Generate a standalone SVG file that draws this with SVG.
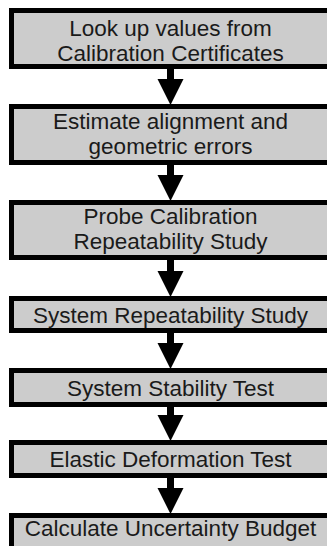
<svg xmlns="http://www.w3.org/2000/svg" width="327" height="546" viewBox="0 0 327 546">
<style>
.box{fill:#cccccc;stroke:#000;stroke-width:5}
.t{font-family:"Liberation Sans",Arial,sans-serif;font-size:22.5px;fill:#1a1a1a;text-anchor:middle}
.arr{fill:#000}
</style>
<rect width="327" height="546" fill="#fff"/>
<g id="n1"><rect class="box" x="11.5" y="10.5" width="340" height="56"/><text class="t" x="170.5" y="35.5">Look up values from</text><text class="t" x="170.5" y="60.5">Calibration Certificates</text></g>
<g id="n2"><rect class="box" x="11.5" y="106.5" width="340" height="56"/><text class="t" x="170.5" y="129">Estimate alignment and</text><text class="t" x="170.5" y="154">geometric errors</text></g>
<g id="n3"><rect class="box" x="11.5" y="202.5" width="340" height="55"/><text class="t" x="170.5" y="224">Probe Calibration</text><text class="t" x="170.5" y="249">Repeatability Study</text></g>
<g id="n4"><rect class="box" x="11.5" y="298.5" width="340" height="32"/><text class="t" x="170.5" y="322.7">System Repeatability Study</text></g>
<g id="n5"><rect class="box" x="11.5" y="370.5" width="340" height="34"/><text class="t" x="170.5" y="395.5">System Stability Test</text></g>
<g id="n6"><rect class="box" x="11.5" y="442.5" width="340" height="33"/><text class="t" x="170.5" y="467">Elastic Deformation Test</text></g>
<g id="n7"><rect class="box" x="11.5" y="515.5" width="340" height="40"/><text class="t" x="170.5" y="536">Calculate Uncertainty Budget</text></g>
<g id="connectors">
<polygon class="arr" points="167,68 174,68 174,79 183.5,79 170.5,105 157.5,79 167,79"/>
<polygon class="arr" points="167,164 174,164 174,175 183.5,175 170.5,201 157.5,175 167,175"/>
<polygon class="arr" points="167,259 174,259 174,271 183.5,271 170.5,297 157.5,271 167,271"/>
<polygon class="arr" points="167,332 174,332 174,343 183.5,343 170.5,369 157.5,343 167,343"/>
<polygon class="arr" points="167,406 174,406 174,415 183.5,415 170.5,441 157.5,415 167,415"/>
<polygon class="arr" points="167,477 174,477 174,488 183.5,488 170.5,514 157.5,488 167,488"/>
</g>
</svg>
